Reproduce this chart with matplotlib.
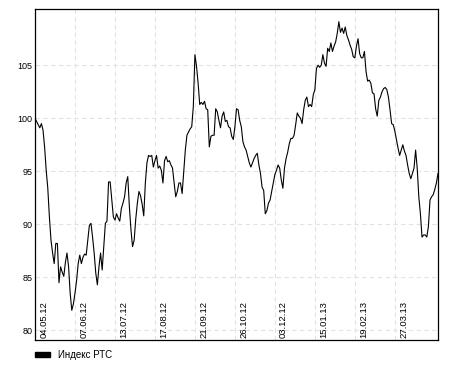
import matplotlib
matplotlib.use("Agg")
import matplotlib.pyplot as plt
from matplotlib.patches import Patch
import numpy as np

plt.rcParams['font.family'] = ['Liberation Sans', 'DejaVu Sans']

# RTS index values, one per trading day
rts = [
    100.0, 99.7, 99.4, 99.1, 99.5, 98.9, 97.3, 95.1, 93.4, 90.7,
    88.5, 87.3, 86.3, 88.2, 88.2, 84.5, 86.0, 85.5, 85.1, 86.4,
    87.3, 86.0, 83.5, 81.9, 82.5, 83.5, 84.7, 86.3, 87.1, 86.3,
    86.9, 87.2, 87.1, 88.5, 89.9, 90.1, 88.8, 87.3, 85.4, 84.3,
    86.0, 87.3, 85.7, 87.9, 90.1, 90.3, 94.0, 94.0, 92.3, 90.7,
    90.4, 91.0, 90.6, 90.3, 91.5, 92.0, 92.6, 93.9, 94.5, 91.7,
    89.5, 87.9, 88.5, 90.5, 92.0, 93.1, 92.7, 91.9, 90.8, 93.9,
    95.8, 96.5, 96.4, 96.5, 95.4, 96.0, 96.5, 95.3, 95.5, 95.1,
    93.9, 96.0, 96.4, 95.9, 96.0, 95.6, 95.3, 93.9, 92.6, 93.1,
    93.9, 93.9, 92.9, 95.0, 97.0, 98.4, 98.7, 99.0, 99.2, 101.1,
    106.0, 104.9, 103.3, 101.3, 101.5, 101.3, 101.6, 100.9, 100.8, 97.3,
    98.3, 98.4, 98.4, 100.9, 100.6, 99.8, 99.1, 100.2, 100.6, 99.7,
    99.8, 99.2, 99.1, 98.3, 98.0, 99.2, 100.9, 100.8, 99.8, 99.2,
    97.8, 97.3, 97.0, 96.4, 95.8, 95.4, 95.8, 96.2, 96.5, 96.7,
    95.6, 94.8, 93.5, 93.2, 91.0, 91.3, 92.0, 92.3, 93.1, 93.9,
    94.7, 95.1, 95.6, 95.3, 94.2, 93.4, 95.3, 96.2, 96.8, 97.6,
    98.1, 98.1, 98.4, 99.4, 100.5, 100.2, 100.0, 99.5, 100.8, 101.7,
    102.0, 101.1, 101.3, 101.1, 102.2, 102.7, 104.7, 105.0, 104.8, 105.0,
    106.0, 105.2, 104.9, 106.6, 106.3, 107.1, 106.3, 106.8, 107.2, 108.0,
    109.1, 108.1, 108.5, 108.0, 108.6, 107.8, 107.4, 106.9, 106.5, 105.8,
    105.7, 106.8, 107.5, 106.1, 105.7, 105.7, 106.3, 104.4, 103.5, 103.6,
    103.3, 102.4, 102.3, 100.9, 100.2, 101.7, 102.0, 102.5, 102.8, 102.9,
    102.7, 102.0, 100.8, 99.5, 99.4, 98.8, 98.0, 97.2, 96.5, 97.0,
    97.5, 96.9, 96.5, 95.6, 94.8, 94.3, 94.8, 95.3, 97.0, 95.3,
    92.6, 91.0, 88.8, 89.0, 89.0, 88.8, 89.8, 92.3, 92.6, 92.8,
    93.3, 93.9, 94.8,
]

date_labels = ['04.05.12', '07.06.12', '13.07.12', '17.08.12', '21.09.12',
               '26.10.12', '03.12.12', '15.01.13', '19.02.13', '27.03.13']
label_step = 25
y_ticks = [80, 85, 90, 95, 100, 105]
series_name = 'Индекс РТС'

fig = plt.figure(figsize=(4.5, 3.9), dpi=100)
ax = fig.add_axes([35 / 450, 50 / 390, 403 / 450, 331 / 390])

x = np.arange(len(rts))
ax.plot(x, rts, color='black', lw=0.8)

ax.set_xlim(0, len(rts) - 1)
ax.set_ylim(79.1, 110.3)

tick_pos = [i * label_step for i in range(len(date_labels))]
ax.set_xticks(tick_pos)
ax.set_xticklabels([])
ax.set_yticks(y_ticks)
ax.set_yticklabels([str(v) for v in y_ticks], fontsize=6.5)
ax.tick_params(length=0, pad=2)

ax.grid(True, color='#e2e2e2', linestyle=(0, (4, 3)), lw=0.8)
ax.set_axisbelow(True)
for sp in ax.spines.values():
    sp.set_color('black')
    sp.set_linewidth(0.9)

# date labels sit inside the plot, right of each gridline
for pos, lab in zip(tick_pos, date_labels):
    ax.annotate(lab, xy=(pos, 0), xycoords=('data', 'axes fraction'),
                xytext=(3, 1.5), textcoords='offset points',
                rotation=90, ha='left', va='bottom', fontsize=6.8)

fig.legend(handles=[Patch(facecolor='black', edgecolor='black')],
           labels=[series_name], loc='center left',
           bbox_to_anchor=(26 / 450, 1 - 355 / 390), frameon=False,
           fontsize=7, handlelength=1.6, handleheight=0.55,
           handletextpad=0.8)

fig.savefig('out.png', dpi=100)
